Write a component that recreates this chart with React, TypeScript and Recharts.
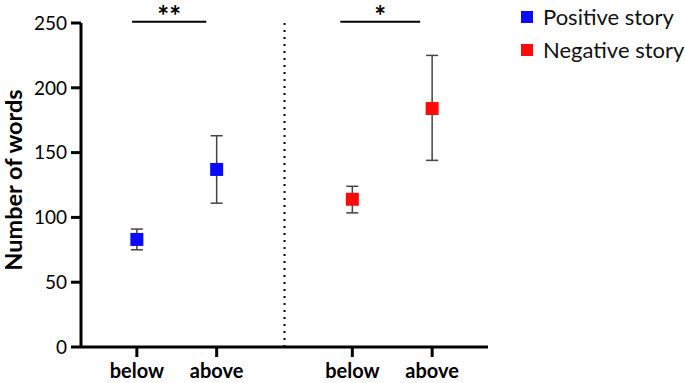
import React from "react";
import {
  ScatterChart,
  Scatter,
  XAxis,
  YAxis,
  ErrorBar,
  ReferenceLine,
} from "recharts";

const groupLabels = ["below", "above", "below", "above"];
const groupX = [1, 2, 3.7, 4.7];

const positiveMean = [83, 137];
const positiveErr = [
  [8, 8],
  [26, 26],
];
const negativeMean = [114, 184];
const negativeErr = [
  [10.5, 10],
  [40, 41],
];

const yTicks = [0, 50, 100, 150, 200, 250];
const dividerX = 2.85;

const sigLabels = ["**", "*"];
const sigSpans = [
  [0.94, 1.87],
  [3.55, 4.55],
];
const sigLevel = 251;

const series = [
  { name: "Positive story", color: "#0a0aff" },
  { name: "Negative story", color: "#ff0a0a" },
];

const positiveData = positiveMean.map((y, i) => ({ x: groupX[i], y, err: positiveErr[i] }));
const negativeData = negativeMean.map((y, i) => ({ x: groupX[i + 2], y, err: negativeErr[i] }));

const font = "Lato, 'Open Sans', sans-serif";

const square = (color: string) => (props: any) => (
  <rect x={props.cx - 6.5} y={props.cy - 6.5} width={13} height={13} fill={color} />
);

// y-axis title, drawn rotated beside the ticks
const YTitle = (props: any) => {
  const vb = props.viewBox || {};
  const cy = (vb.y ?? 0) + (vb.height ?? 0) / 2 - 5;
  return (
    <text
      transform={`translate(22, ${cy}) rotate(-90)`}
      textAnchor="middle"
      fontSize={23.5}
      fontWeight={700}
      fill="#000"
      fontFamily={font}
    >
      Number of words
    </text>
  );
};

export default function App() {
  return (
    <div style={{ position: "absolute", left: 0, top: 0, width: 685, height: 383, fontFamily: font }}>
      <ScatterChart width={685} height={383} margin={{ top: 23, right: 197, bottom: 0, left: 0 }}>
        <XAxis
          type="number"
          dataKey="x"
          domain={[0.3, 5.4]}
          ticks={groupX}
          tickFormatter={(v, i) => groupLabels[i]}
          interval={0}
          height={36}
          tickSize={10}
          tickMargin={7}
          axisLine={{ stroke: "#000", strokeWidth: 3 }}
          tickLine={{ stroke: "#000", strokeWidth: 3 }}
          tick={{ fill: "#000", fontSize: 20, fontWeight: 700, fontFamily: font }}
        />
        <YAxis
          type="number"
          dataKey="y"
          domain={[0, 250]}
          ticks={yTicks}
          width={81}
          tickSize={10}
          tickMargin={4}
          axisLine={{ stroke: "#000", strokeWidth: 3 }}
          tickLine={{ stroke: "#000", strokeWidth: 3 }}
          tick={{ fill: "#000", fontSize: 19, fontFamily: font }}
          label={{ content: <YTitle /> }}
        />
        <ReferenceLine x={dividerX} stroke="#000" strokeWidth={2} strokeDasharray="2 5" />
        {sigLabels.map((lab, i) => (
          <ReferenceLine
            key={i}
            ifOverflow="visible"
            segment={[
              { x: sigSpans[i][0], y: sigLevel },
              { x: sigSpans[i][1], y: sigLevel },
            ]}
            stroke="#000"
            strokeWidth={2}
            label={{ value: lab, position: "top", offset: -4, fill: "#000", fontSize: 28, fontWeight: 700, fontFamily: font }}
          />
        ))}
        <Scatter data={positiveData} name={series[0].name} isAnimationActive={false} shape={square(series[0].color)}>
          <ErrorBar dataKey="err" direction="y" width={6} stroke="#444" strokeWidth={1.5} />
        </Scatter>
        <Scatter data={negativeData} name={series[1].name} isAnimationActive={false} shape={square(series[1].color)}>
          <ErrorBar dataKey="err" direction="y" width={6} stroke="#444" strokeWidth={1.5} />
        </Scatter>
      </ScatterChart>
      <div style={{ position: "absolute", left: 521, top: 0 }}>
        {series.map((s) => (
          <div key={s.name} style={{ display: "flex", alignItems: "center", height: 33, fontSize: 22, color: "#111" }}>
            <span style={{ display: "inline-block", width: 12, height: 12, background: s.color, marginRight: 10 }} />
            {s.name}
          </div>
        ))}
      </div>
    </div>
  );
}
